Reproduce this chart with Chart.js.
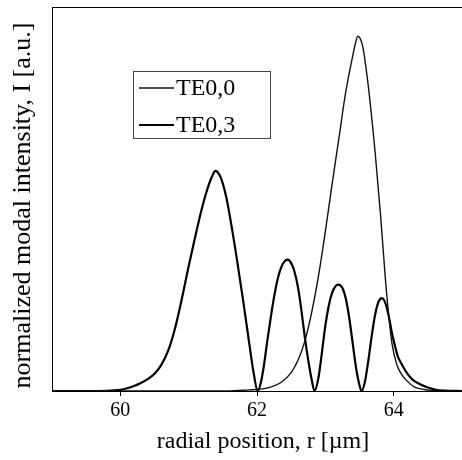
<!DOCTYPE html>
<html>
<head>
<meta charset="utf-8">
<script src="https://cdn.jsdelivr.net/npm/chart.js@4.4.1/dist/chart.umd.min.js"></script>
<style>
  html, body { margin: 0; padding: 0; background: #fff; }
  #wrap { width: 462px; height: 460px; }
</style>
</head>
<body>
<div id="wrap"><canvas id="chart" width="462" height="460"></canvas></div>
<script>
// --- Data ---
const seriesLabels = ['TE0,0', 'TE0,3'];
const xTicks = [60, 62, 64];

// TE0,0 : radial position (µm) and intensity
const te00R = [59.0, 61.5, 61.8, 62.0, 62.2, 62.35, 62.5, 62.6, 62.7, 62.8, 62.9,
  63.0, 63.1, 63.2, 63.3, 63.4, 63.44, 63.475, 63.51, 63.55, 63.63, 63.73, 63.81, 63.88, 63.93,
  63.975, 64.04, 64.1, 64.18, 64.3, 64.45, 64.6, 64.8, 65.0];
const te00I = [0, 0, 0.002, 0.004, 0.01, 0.022, 0.048, 0.08, 0.13, 0.205, 0.3,
  0.415, 0.54, 0.66, 0.78, 0.872, 0.905, 0.924, 0.918, 0.895, 0.792, 0.619, 0.454, 0.289, 0.193,
  0.124, 0.072, 0.048, 0.029, 0.011, 0.004, 0.001, 0, 0];

// TE0,3
const te03R = [59.0, 59.5, 59.8, 60.0, 60.1, 60.2, 60.3, 60.4, 60.5, 60.6, 60.7, 60.8, 60.9,
  61.0, 61.1, 61.2, 61.3, 61.35, 61.39, 61.45, 61.5, 61.55, 61.6, 61.7, 61.8, 61.9, 61.95, 62.01,
  62.06, 62.1, 62.15, 62.2, 62.25, 62.3, 62.35, 62.4, 62.45, 62.5, 62.55, 62.6, 62.65,
  62.7, 62.75, 62.8, 62.84,
  62.9, 62.95, 63.0, 63.05, 63.1, 63.15, 63.19, 63.25, 63.3, 63.35, 63.4, 63.45, 63.5, 63.53,
  63.58, 63.63, 63.68, 63.73, 63.78, 63.83, 63.88, 63.93, 63.97, 64.01, 64.06, 64.11,
  64.2, 64.28, 64.38, 64.47, 64.6, 64.75, 65.0];
const te03I = [0, 0, 0.0005, 0.003, 0.007, 0.013, 0.021, 0.031, 0.045, 0.068, 0.105, 0.163, 0.24,
  0.325, 0.405, 0.48, 0.54, 0.562, 0.573, 0.563, 0.54, 0.505, 0.458, 0.35, 0.232, 0.107, 0.048, 0,
  0.025, 0.065, 0.13, 0.19, 0.245, 0.29, 0.32, 0.337, 0.342, 0.333, 0.31, 0.27, 0.21,
  0.14, 0.08, 0.03, 0,
  0.035, 0.1, 0.17, 0.222, 0.256, 0.273, 0.277, 0.268, 0.24, 0.19, 0.125, 0.06, 0.015, 0,
  0.025, 0.08, 0.145, 0.2, 0.233, 0.242, 0.228, 0.193, 0.155, 0.124, 0.09, 0.072,
  0.045, 0.029, 0.018, 0.011, 0.004, 0.001, 0];

const toPoints = (xs, ys) => xs.map((x, i) => ({ x: x, y: ys[i] }));

// --- Plugins ---
// top edge of the plot frame
const frameTop = {
  id: 'frameTop',
  afterDraw(chart) {
    const { ctx, chartArea: a } = chart;
    ctx.save();
    ctx.strokeStyle = '#000';
    ctx.lineWidth = 1;
    ctx.beginPath();
    ctx.moveTo(a.left, a.top + 0.5);
    ctx.lineTo(a.right, a.top + 0.5);
    ctx.stroke();
    ctx.restore();
  }
};

// boxed legend floating inside the plot
const boxLegend = {
  id: 'boxLegend',
  afterDraw(chart) {
    const { ctx } = chart;
    const box = { x: 133.5, y: 71.5, w: 137, h: 67 };
    ctx.save();
    ctx.strokeStyle = '#444';
    ctx.lineWidth = 1;
    ctx.strokeRect(box.x, box.y, box.w, box.h);
    ctx.font = '24px "Liberation Serif", "DejaVu Serif", serif';
    ctx.textBaseline = 'middle';
    ctx.fillStyle = '#000';
    chart.data.datasets.forEach((ds, i) => {
      const y = 88 + i * 37;
      ctx.strokeStyle = ds.borderColor;
      ctx.lineWidth = ds.borderWidth;
      ctx.beginPath();
      ctx.moveTo(139, y);
      ctx.lineTo(174, y);
      ctx.stroke();
      ctx.fillText(ds.label, 176, y + 1);
    });
    ctx.restore();
  }
};

// --- Chart ---
new Chart(document.getElementById('chart'), {
  type: 'line',
  data: {
    datasets: [
      {
        label: seriesLabels[0],
        data: toPoints(te00R, te00I),
        borderColor: '#111',
        borderWidth: 1.4,
        pointRadius: 0,
        cubicInterpolationMode: 'monotone',
        fill: false
      },
      {
        label: seriesLabels[1],
        data: toPoints(te03R, te03I),
        borderColor: '#000',
        borderWidth: 2.2,
        pointRadius: 0,
        cubicInterpolationMode: 'monotone',
        fill: false
      }
    ]
  },
  options: {
    responsive: false,
    animation: false,
    layout: { padding: { top: 7, right: 0, left: 0, bottom: 0 } },
    plugins: { legend: { display: false }, tooltip: { enabled: false } },
    scales: {
      x: {
        type: 'linear',
        min: 59,
        max: 65,
        afterBuildTicks: (scale) => { scale.ticks = xTicks.map(v => ({ value: v })); },
        afterFit: (scale) => { scale.height = 69; },
        grid: { drawOnChartArea: false, drawTicks: true, tickLength: 5, color: '#000' },
        border: { display: true, color: '#000', width: 1 },
        ticks: {
          color: '#000',
          padding: 3,
          maxRotation: 0,
          font: { family: '"Liberation Serif", "DejaVu Serif", serif', size: 20 }
        },
        title: {
          display: true,
          text: '  radial position, r [\u00b5m]',
          color: '#000',
          padding: { top: 0, bottom: 4 },
          font: { family: '"Liberation Serif", "DejaVu Serif", serif', size: 24 }
        }
      },
      y: {
        min: 0,
        max: 1,
        afterFit: (scale) => { scale.width = 52; },
        grid: { display: false },
        border: { display: true, color: '#000', width: 1 },
        ticks: { display: false },
        title: {
          display: true,
          text: 'normalized modal intensity, I [a.u.]  ',
          color: '#000',
          padding: { top: 8, bottom: 0 },
          font: { family: '"Liberation Serif", "DejaVu Serif", serif', size: 26 }
        }
      }
    }
  },
  plugins: [frameTop, boxLegend]
});
</script>
</body>
</html>
